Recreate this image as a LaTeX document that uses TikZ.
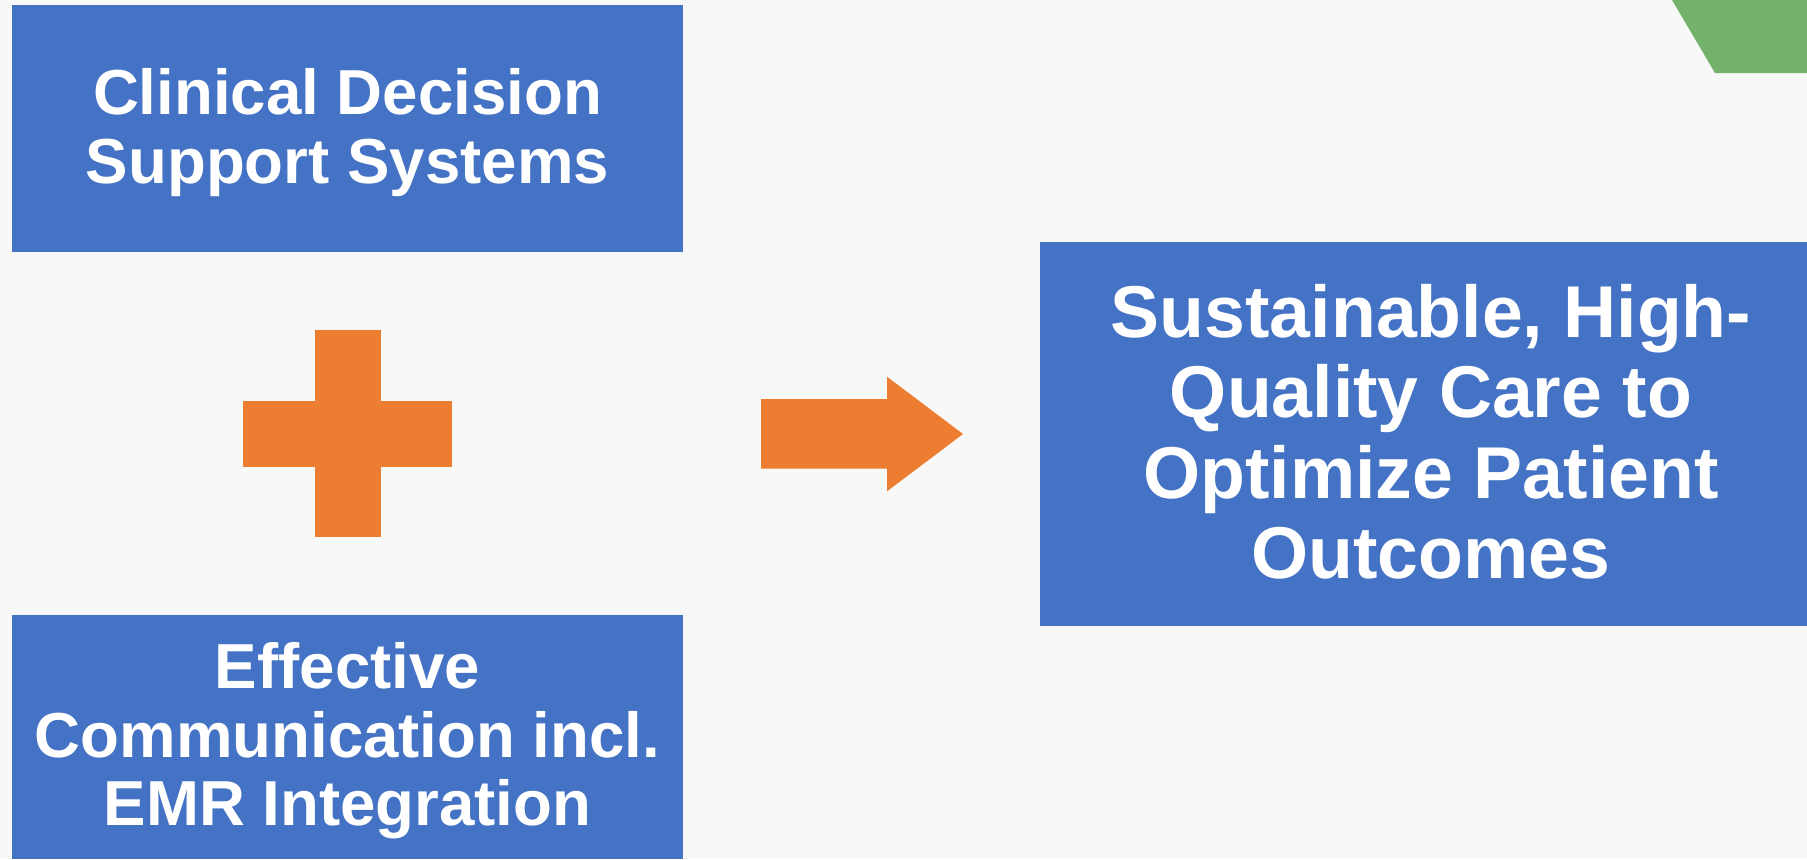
\documentclass[tikz,border=0pt]{standalone}
\usepackage{fontspec}
\setmainfont{Liberation Sans}
\usepackage{xcolor}
\usetikzlibrary{positioning, calc}

\definecolor{boxblue}{HTML}{4472C4}
\definecolor{signorange}{HTML}{ED7D31}
\definecolor{tabgreen}{RGB}{116,177,107}
\definecolor{pagegray}{HTML}{F8F8F8}

\begin{document}
\begin{tikzpicture}[
    x=0.5pt, y=-0.5pt,
    block/.style={rectangle, fill=boxblue, text=white, align=center, inner sep=0pt, outer sep=0pt,
                  text depth=2.7pt, minimum width=335.5pt, minimum height=123.5pt,
                  font=\fontsize{31.8}{34.3}\selectfont\bfseries},
    goal/.style={block, minimum width=391pt, minimum height=191.9pt, font=\fontsize{36.7}{40.2}\selectfont\bfseries},
    bar/.style={rectangle, fill=signorange, inner sep=0pt, outer sep=0pt}
]
\fill[pagegray] (0,0) rectangle (1807,859);
\useasboundingbox (0,0) rectangle (1807,859);
% green tab in the corner
\fill[tabgreen] (1672,0) -- (1715,73) -- (1807,73) -- (1807,0) -- cycle;

\node[block] (cdss) at (347.5,128.5) {Clinical Decision\\Support Systems};
\node[block, below=181.5pt of cdss, minimum height=122pt] (comm) {Effective\\Communication incl.\\EMR Integration};
\node[goal] (care) at (1431,434) {Sustainable, High-\\Quality Care to\\Optimize Patient\\Outcomes};

% plus sign between the two inputs
\coordinate (plus) at ($(cdss.south)!0.5!(comm.north)$);
\node[bar, minimum width=33pt, minimum height=103.5pt] (plusv) at (plus) {};
\node[bar, minimum width=104.3pt, minimum height=33pt] (plush) at (plus) {};
% block arrow towards the outcome box
\fill[signorange] (761,399) -- (887,399) -- (887,376.7) -- (963,434) -- (887,491.3) -- (887,468.7) -- (761,468.7) -- cycle;
\end{tikzpicture}
\end{document}
